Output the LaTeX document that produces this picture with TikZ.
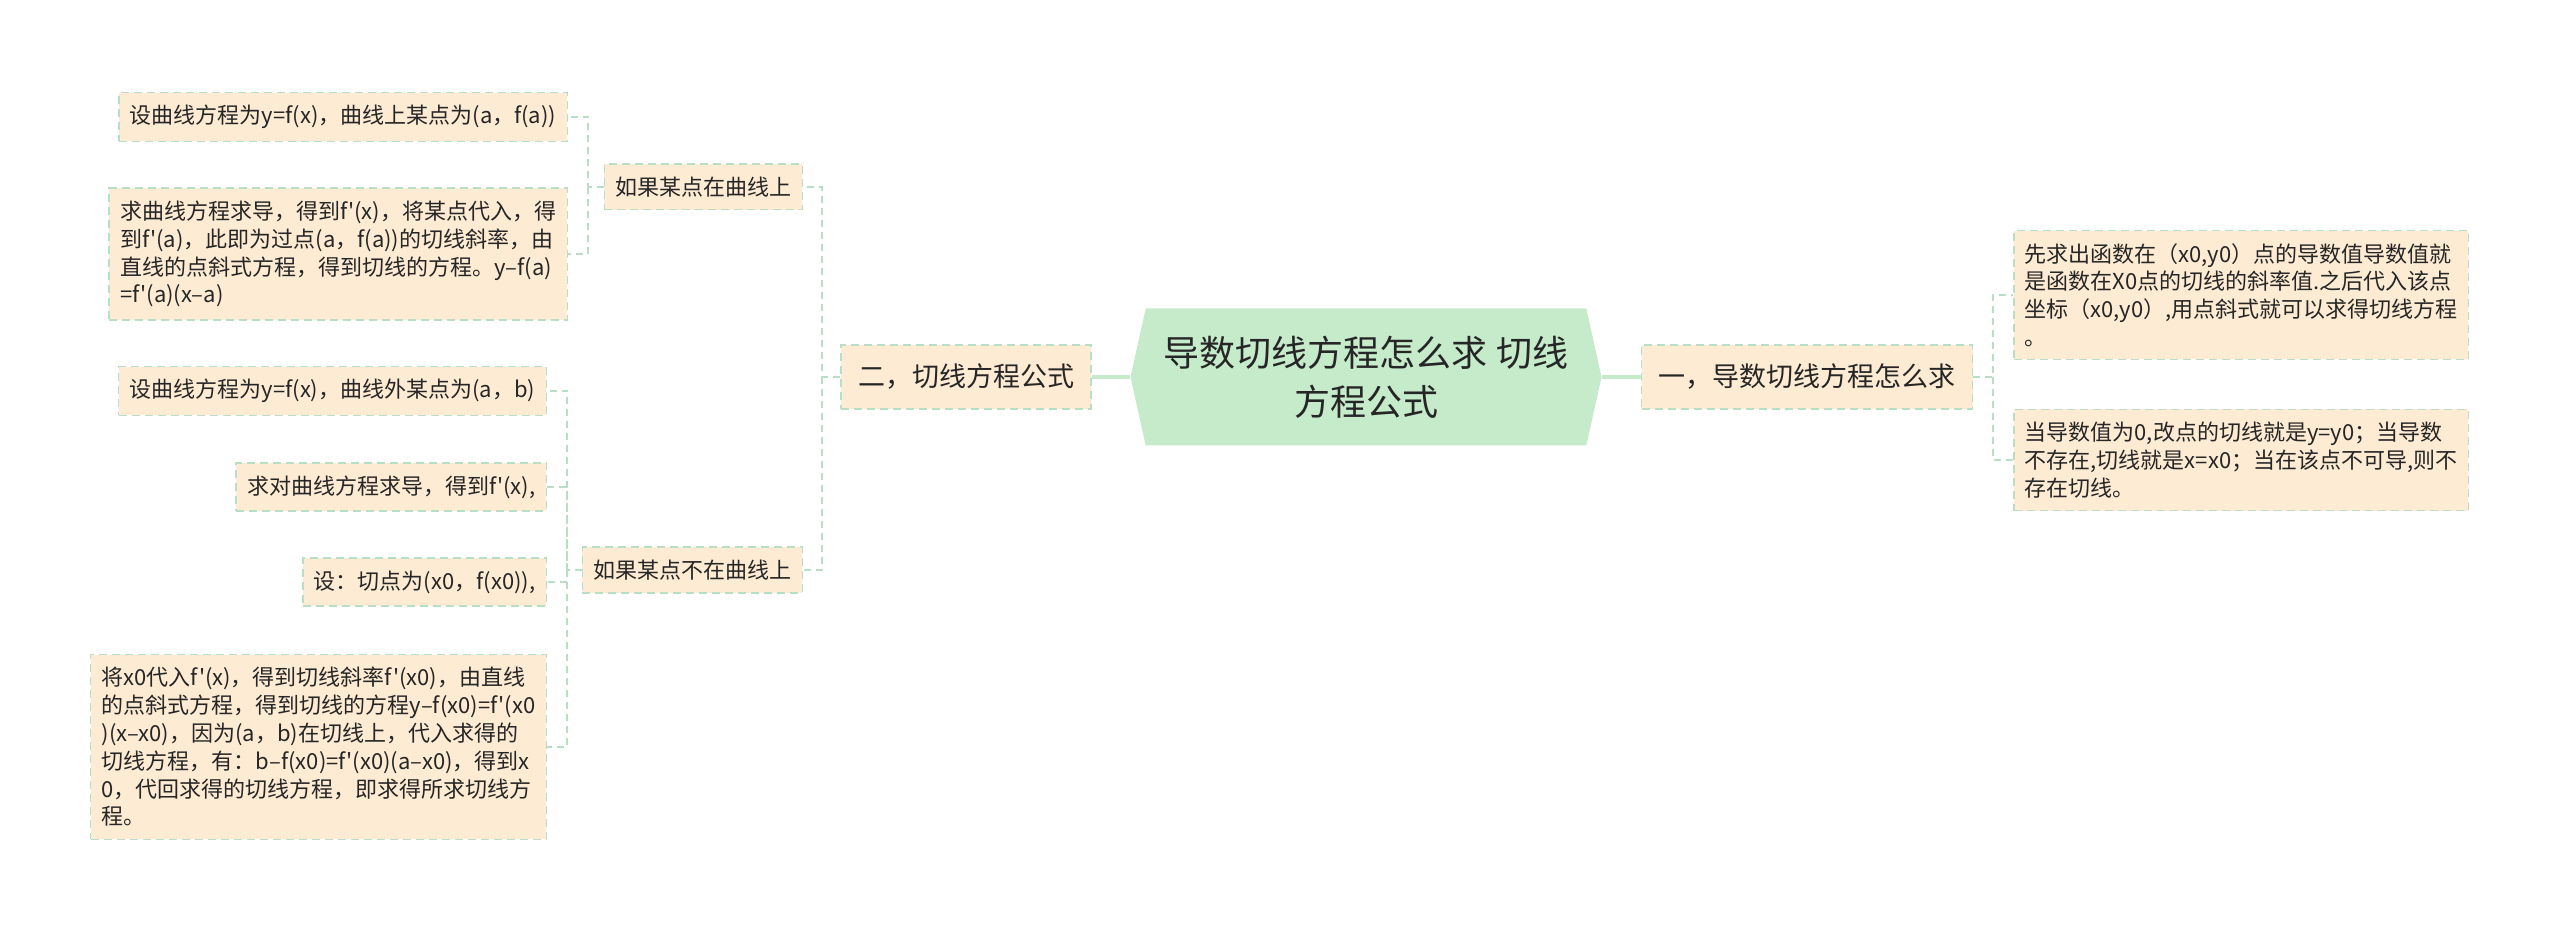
\documentclass[tikz,border=0pt]{standalone}
\usepackage{fontspec}
\setmainfont{Noto Sans CJK SC}[Ligatures=TeXOff]
\usepackage{tikz}
\usepackage{xcolor}
\usetikzlibrary{shapes.symbols, positioning}
\definecolor{leaffill}{HTML}{FDEBD3}
\definecolor{dashgreen}{HTML}{B9DEC6}
\definecolor{rootgreen}{HTML}{C5EBCB}
\definecolor{inkgray}{HTML}{262626}
\tikzset{
  leaf/.style={draw=dashgreen, fill=leaffill, line width=0.75pt, dash pattern=on 4pt off 2.5pt,
    inner xsep=5.5pt, inner ysep=6.3pt, align=left, text=inkgray,
    font=\fontsize{11}{13.9}\selectfont},
  branch/.style={leaf, inner xsep=8.5pt, inner ysep=9.5pt, font=\fontsize{13.5}{16}\selectfont},
  topic/.style={signal, signal to=west and east, signal pointer angle=155, fill=rootgreen,
    minimum width=235.5pt, minimum height=68.5pt, align=center, text=inkgray,
    font=\fontsize{18}{24.5}\selectfont},
  link/.style={draw=dashgreen, line width=0.75pt, dash pattern=on 3.5pt off 2.5pt},
  trunk/.style={draw=rootgreen, line width=2pt}
}

\begin{document}
\begin{tikzpicture}[x=0.5pt, y=-0.5pt]
\useasboundingbox (0,0) rectangle (2560,935); % whole page
\node[topic] (root) at (1366,377) {导数切线方程怎么求 切线\\方程公式};
\node[branch] (secII) at (966,377) {二，切线方程公式};
\node[branch] (secI) at (1807,377) {一，导数切线方程怎么求};
\draw[trunk] (root.west) -- (secII.east);
\draw[trunk] (root.east) -- (secI.west);
% right side
\node[leaf, anchor=west] (slopeA) at (2013,295) {先求出函数在（x0,y0）点的导数值导数值就\\是函数在X0点的切线的斜率值.之后代入该点\\坐标（x0,y0）,用点斜式就可以求得切线方程\\。};
\node[leaf, anchor=west] (slopeB) at (2013,460) {当导数值为0,改点的切线就是y=y0；当导数\\不存在,切线就是x=x0；当在该点不可导,则不\\存在切线。};
\coordinate (jR) at (1993,377);
\draw[link] (secI.east) -- (jR) |- (slopeA.west);
\draw[link] (jR) |- (slopeB.west);
% left side
\node[leaf, anchor=east] (onCurve) at (803,187) {如果某点在曲线上};
\node[leaf, anchor=east] (offCurve) at (803,570) {如果某点不在曲线上};
\coordinate (jL) at (822,377);
\draw[link] (secII.west) -- (jL) |- (onCurve.east);
\draw[link] (jL) |- (offCurve.east);
% point on the curve
\node[leaf, anchor=east] (onA) at (568,117) {设曲线方程为y=f(x)，曲线上某点为(a，f(a))};
\node[leaf, anchor=east] (onB) at (568,254) {求曲线方程求导，得到f'(x)，将某点代入，得\\到f'(a)，此即为过点(a，f(a))的切线斜率，由\\直线的点斜式方程，得到切线的方程。y–f(a)\\=f'(a)(x–a)};
\coordinate (jOn) at (588,187);
\draw[link] (onCurve.west) -- (jOn) |- (onA.east);
\draw[link] (jOn) |- (onB.east);
% point off the curve
\node[leaf, anchor=east] (offA) at (547,391) {设曲线方程为y=f(x)，曲线外某点为(a，b)};
\node[leaf, anchor=east] (offB) at (547,487) {求对曲线方程求导，得到f'(x),};
\node[leaf, anchor=east] (offC) at (547,582) {设：切点为(x0，f(x0)),};
\node[leaf, anchor=east] (offD) at (547,747) {将x0代入f'(x)，得到切线斜率f'(x0)，由直线\\的点斜式方程，得到切线的方程y–f(x0)=f'(x0\\)(x–x0)，因为(a，b)在切线上，代入求得的\\切线方程，有：b–f(x0)=f'(x0)(a–x0)，得到x\\0，代回求得的切线方程，即求得所求切线方\\程。};
\coordinate (jOff) at (567,570);
\draw[link] (offCurve.west) -- (jOff) |- (offA.east);
\foreach \n in {offB,offC,offD}
  \draw[link] (jOff) |- (\n.east);
\end{tikzpicture}
\end{document}
